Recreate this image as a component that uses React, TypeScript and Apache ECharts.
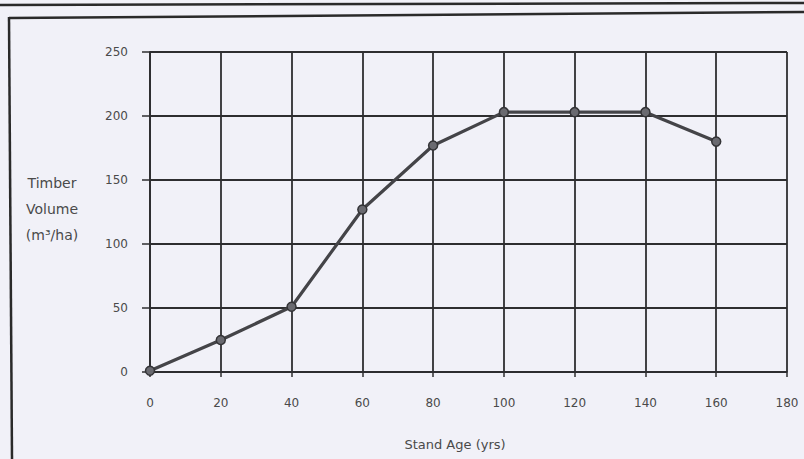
import React, { useEffect, useRef } from "react";
import * as echarts from "echarts";

const ages = [0, 20, 40, 60, 80, 100, 120, 140, 160];
const volumes = [1, 25, 51, 127, 177, 203, 203, 203, 180];
const yTicks = [0, 50, 100, 150, 200, 250];
const xTicks = [0, 20, 40, 60, 80, 100, 120, 140, 160, 180];
const xTitle = "Stand Age (yrs)";
const yTitleLines = ["Timber", "Volume", "(m³/ha)"];

export default function App() {
  const ref = useRef<HTMLDivElement>(null);
  useEffect(() => {
    if (!ref.current) return;
    const chart = echarts.init(ref.current, null, { renderer: "svg" });
    const gridColor = "#2e2e30";
    const labelColor = "#4a4a4a";
    const font = "DejaVu Sans";
    chart.setOption({
      animation: false,
      backgroundColor: "#f1f1f8",
      grid: { left: 150, right: 17, top: 52, bottom: 87, containLabel: false },
      xAxis: {
        type: "value",
        min: xTicks[0],
        max: xTicks[xTicks.length - 1],
        interval: 20,
        axisLine: { show: true, lineStyle: { color: gridColor, width: 1.5 } },
        axisTick: { show: true, length: 5, lineStyle: { color: gridColor, width: 1.5 } },
        splitLine: { show: true, lineStyle: { color: gridColor, width: 1.8 } },
        axisLabel: { color: labelColor, fontFamily: font, fontSize: 12, margin: 25 },
      },
      yAxis: {
        type: "value",
        min: yTicks[0],
        max: yTicks[yTicks.length - 1],
        interval: 50,
        axisLine: { show: true, lineStyle: { color: gridColor, width: 1.8 } },
        axisTick: { show: true, length: 8, lineStyle: { color: gridColor, width: 1.5 } },
        splitLine: { show: true, lineStyle: { color: gridColor, width: 1.8 } },
        axisLabel: { color: labelColor, fontFamily: font, fontSize: 12, margin: 22 },
      },
      series: [
        {
          type: "line",
          data: ages.map((a, i) => [a, volumes[i]]),
          symbol: "circle",
          symbolSize: 9,
          lineStyle: { color: "#444448", width: 3.2 },
          itemStyle: { color: "#6a6a70", borderColor: "#333336", borderWidth: 1.5 },
          z: 5,
        },
      ],
      graphic: [
        { type: "line", shape: { x1: 0, y1: 5, x2: 804, y2: 3 }, style: { stroke: "#2a2a2a", lineWidth: 2.5 } },
        { type: "line", shape: { x1: 9, y1: 18, x2: 804, y2: 12 }, style: { stroke: "#2a2a2a", lineWidth: 2.5 } },
        { type: "line", shape: { x1: 9, y1: 17, x2: 12, y2: 459 }, style: { stroke: "#2a2a2a", lineWidth: 2.5 } },
        {
          type: "text",
          x: 455,
          y: 444,
          style: {
            text: xTitle,
            fill: labelColor,
            font: `13px "${font}"`,
            textAlign: "center",
            textVerticalAlign: "middle",
          },
        },
        ...yTitleLines.map((t, i) => ({
          type: "text",
          x: 52,
          y: 183 + i * 26,
          style: {
            text: t,
            fill: labelColor,
            font: `14px "${font}"`,
            textAlign: "center",
            textVerticalAlign: "middle",
          },
        })),
      ],
    });
    return () => chart.dispose();
  }, []);
  return (
    <div
      ref={ref}
      style={{ position: "absolute", left: 0, top: 0, width: 804, height: 459 }}
    />
  );
}
